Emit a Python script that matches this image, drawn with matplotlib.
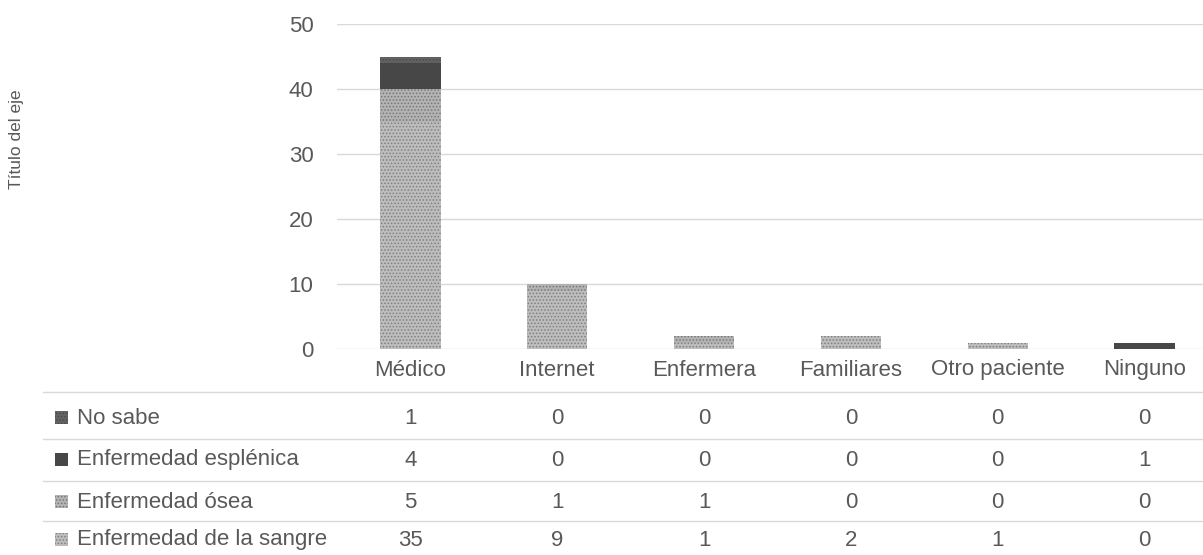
import matplotlib
matplotlib.use("Agg")
import matplotlib.pyplot as plt
import matplotlib.transforms as mtransforms
from matplotlib.patches import Rectangle

# Data
categories = ["Médico", "Internet", "Enfermera", "Familiares", "Otro paciente", "Ninguno"]
sangre = [35, 9, 1, 2, 1, 0]
osea = [5, 1, 1, 0, 0, 0]
esplenica = [4, 0, 0, 0, 0, 1]
no_sabe = [1, 0, 0, 0, 0, 0]
series_names = ["Enfermedad de la sangre", "Enfermedad ósea", "Enfermedad esplénica", "No sabe"]
yticks = [0, 10, 20, 30, 40, 50]

series_values = [sangre, osea, esplenica, no_sabe]
styles = [
    dict(facecolor="#bdbdbd", edgecolor="#7f7f7f", hatch="....."),
    dict(facecolor="#b3b3b3", edgecolor="#777777", hatch="....."),
    dict(facecolor="#474747", edgecolor="#5a5a5a", hatch=""),
    dict(facecolor="#636363", edgecolor="#4a4a4a", hatch="....."),
]

TXT = "#595959"
GRID = "#d9d9d9"
FS = 16
plt.rcParams["font.family"] = ["Liberation Sans", "DejaVu Sans"]
plt.rcParams["hatch.linewidth"] = 0.7

W, H = 1203, 555
fig = plt.figure(figsize=(W / 100, H / 100), dpi=100)
left_px, right_px, top_px, base_px = 337, 1203, 24, 349
ax = fig.add_axes([left_px / W, (H - base_px) / H, (right_px - left_px) / W, (base_px - top_px) / H])

x = list(range(len(categories)))
bottom = [0] * len(categories)
for vals, st in zip(series_values, styles):
    ax.bar(x, vals, width=0.41, bottom=bottom, linewidth=0, zorder=3, **st)
    bottom = [b + v for b, v in zip(bottom, vals)]

ax.set_xlim(-0.5, 5.5 - 15 / 147)
ax.set_ylim(0, 50)
ax.set_yticks(yticks)
ax.set_yticklabels([str(t) for t in yticks], fontsize=FS, color=TXT)
ax.set_xticks([])
ax.tick_params(axis="y", length=0, pad=17)
ax.grid(axis="y", color=GRID, linewidth=1.0, zorder=0)
for s in ax.spines.values():
    s.set_visible(False)

fig.text(17 / W, (H - 139) / H, "Título del eje", rotation=90, fontsize=12.5,
         color=TXT, ha="center", va="center")

# Category labels and data table
blend = mtransforms.blended_transform_factory(ax.transData, fig.transFigure)
def fy(py):
    return (H - py) / H

for i, c in enumerate(categories):
    ax.text(i, fy(370), c, transform=blend, ha="center", va="center", fontsize=FS, color=TXT)

row_y = {"No sabe": 418, "Enfermedad esplénica": 460, "Enfermedad ósea": 502, "Enfermedad de la sangre": 540}
table_order = [3, 2, 1, 0]
for idx in table_order:
    name = series_names[idx]
    py = row_y[name]
    for i, v in enumerate(series_values[idx]):
        ax.text(i, fy(py), str(v), transform=blend, ha="center", va="center", fontsize=FS, color=TXT)
    fig.text(77 / W, fy(py), name, ha="left", va="center", fontsize=FS, color=TXT)
    st = styles[idx]
    fig.patches.append(Rectangle((55 / W, fy(py + 6)), 13 / W, 13 / H, transform=fig.transFigure,
                                 facecolor=st["facecolor"], edgecolor=st["edgecolor"],
                                 hatch=st["hatch"], linewidth=0))

for py in [392, 439, 481, 521]:
    fig.add_artist(plt.Line2D([43 / W, 1.0], [fy(py), fy(py)], transform=fig.transFigure,
                              color=GRID, linewidth=1.0))

fig.savefig("out.png", dpi=100, facecolor="white")
